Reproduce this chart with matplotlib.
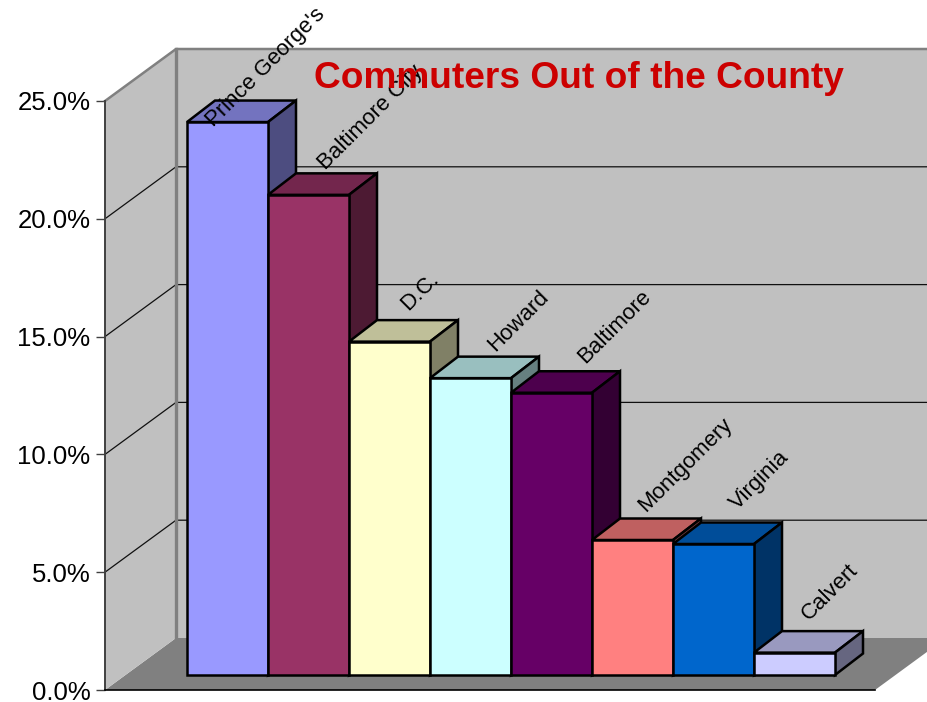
import numpy as np
import matplotlib.pyplot as plt
from matplotlib.patches import Polygon
from matplotlib.colors import to_rgb
from matplotlib.ticker import FormatStrFormatter

plt.rcParams['font.family'] = ['Liberation Sans', 'DejaVu Sans']

# --- Dane ---
counties = ["Prince George's", 'Baltimore City', 'D.C.', 'Howard', 'Baltimore',
            'Montgomery', 'Virginia', 'Calvert']
shares = [23.47, 20.38, 14.15, 12.6, 11.98, 5.73, 5.56, 0.95]
colors = ['#9999FF', '#993366', '#FFFFCC', '#CCFFFF', '#660066', '#FF8080', '#0066CC', '#CCCCFF']
y_ticks = [0, 5, 10, 15, 20, 25]

# label nudges in pixels from the front top left corner of each bar
label_dx = [26, 57, 59, 65, 74, 54, 64, 55]
label_dy = [-5, 24, 31, 26, 29, 28, 34, 32]

W, H = 928, 702
fig = plt.figure(figsize=(W / 100, H / 100), dpi=100)
ax = fig.add_axes([105 / W, (H - 690) / H, (875 - 105) / W, (690 - 101) / H])
ax.patch.set_alpha(0)

x_left, x_right = -82 / 81, 688 / 81
ax.set_xlim(x_left, x_right)
ax.set_ylim(0, 25)

# oblique depth in data units
wall_dx, wall_dy = 71 / 81, 52 / 23.56
bar_dx, bar_dy = 28 / 81, 21.5 / 23.56
base = 15 / 23.56

bx0 = x_left + wall_dx
bx1 = x_right + wall_dx

# --- walls ---
ax.add_patch(Polygon([(x_left, 0), (bx0, wall_dy), (bx1, wall_dy), (x_right, 0)],
                     fc='#808080', ec='none', clip_on=False, zorder=1))
ax.add_patch(Polygon([(bx0, wall_dy), (bx1, wall_dy), (bx1, 25 + wall_dy), (bx0, 25 + wall_dy)],
                     fc='#C0C0C0', ec='none', clip_on=False, zorder=1))
ax.add_patch(Polygon([(x_left, 0), (bx0, wall_dy), (bx0, 25 + wall_dy), (x_left, 25)],
                     fc='#C0C0C0', ec='none', clip_on=False, zorder=1))

for t in y_ticks[1:-1]:
    ax.plot([x_left, bx0, bx1], [t, t + wall_dy, t + wall_dy], color='#101010', lw=0.9,
            clip_on=False, zorder=2)
ax.plot([x_left, bx0, bx1], [25, 25 + wall_dy, 25 + wall_dy], color='#808080', lw=1.8,
        clip_on=False, zorder=2)
ax.plot([bx0, bx0], [wall_dy, 25 + wall_dy], color='#808080', lw=2.4, clip_on=False, zorder=2)

# --- bars ---
def shade(c, k):
    return tuple(v * k for v in to_rgb(c))

edge_w = 1.8
x = np.arange(len(shares))
for i, v in zip(x, shares):
    top = v + base
    z = 3 + i * 0.1
    ax.add_patch(Polygon([(i, top), (i + bar_dx, top + bar_dy), (i + 1 + bar_dx, top + bar_dy), (i + 1, top)],
                         fc=shade(colors[i], 0.75), ec='black', lw=edge_w, clip_on=False, zorder=z))
    ax.add_patch(Polygon([(i + 1, base), (i + 1 + bar_dx, base + bar_dy), (i + 1 + bar_dx, top + bar_dy), (i + 1, top)],
                         fc=shade(colors[i], 0.5), ec='black', lw=edge_w, clip_on=False, zorder=z))
    ax.bar(i, v, width=1, bottom=base, align='edge', color=colors[i], edgecolor='black',
           linewidth=edge_w, clip_on=False, zorder=z + 0.05)

# --- labels ---
for i, name in enumerate(counties):
    ax.annotate(name, (i, shares[i] + base), xytext=(label_dx[i], label_dy[i]),
                textcoords='offset pixels', rotation=45, rotation_mode='anchor',
                ha='left', va='baseline', fontsize=16, color='black',
                annotation_clip=False, zorder=8)

fig.text(579 / W, 1 - 78 / H, 'Commuters Out of the County', color='#CC0000', fontsize=26.7,
         fontweight='bold', ha='center', va='center', zorder=10)

# --- axes ---
ax.set_xticks([])
ax.set_yticks(y_ticks)
ax.yaxis.set_major_formatter(FormatStrFormatter('%.1f%%'))
ax.tick_params(axis='y', length=6.5, width=1, color='#404040', pad=4, labelsize=18.5)
ax.spines['top'].set_visible(False)
ax.spines['right'].set_visible(False)
ax.spines['left'].set_color('#404040')
ax.spines['left'].set_linewidth(1.4)
ax.spines['left'].set_zorder(6)
ax.spines['bottom'].set_color('black')
ax.spines['bottom'].set_linewidth(1.2)
ax.spines['bottom'].set_zorder(6)

fig.savefig('out.png', dpi=100)
